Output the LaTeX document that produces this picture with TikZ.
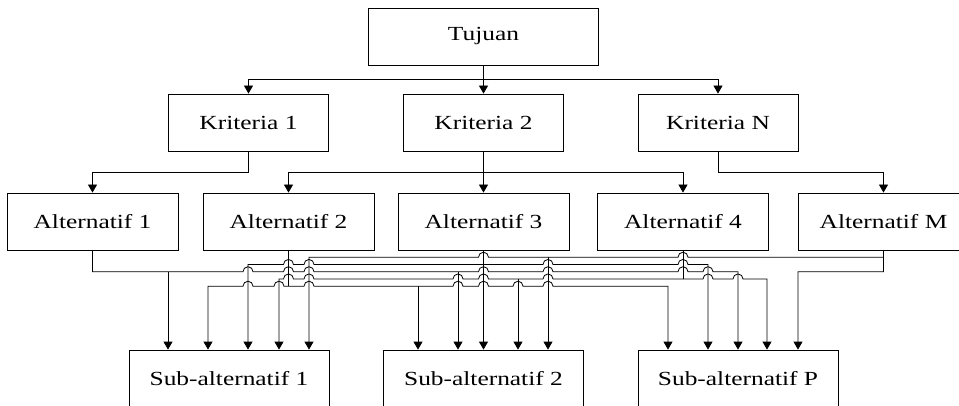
\documentclass[tikz,border=0pt]{standalone}
\usepackage{fontspec}
\setmainfont{Liberation Serif}
\usetikzlibrary{arrows.meta}
\tikzset{
  box/.style={draw, line width=0.8pt, inner sep=0pt, minimum height=57pt,
    font=\fontsize{20}{24}\selectfont},
  ln/.style={line width=0.8pt},
  arr/.style={ln, -{Triangle[length=8pt,width=9pt]}},
  arrtwo/.style={ln, {Triangle[length=8pt,width=9pt]}-{Triangle[length=8pt,width=9pt]}},
  hop/.style args={#1/#2}{insert path={-- ({#1-5},#2) arc[start angle=180,end angle=0,radius=5pt]}},
}
\newcommand{\sx}[1]{\scalebox{1.27}[1]{#1}}
\begin{document}
\begin{tikzpicture}[x=1pt,y=1pt]
\useasboundingbox (0,0) rectangle (959,405);
\clip (0,0) rectangle (959,405);
% nodes
\node[box, minimum width=230pt] (tuj) at (483.5,368.5) {\sx{Tujuan}};
\node[box, minimum width=160pt] (k1) at (248.5,282.5) {\sx{Kriteria 1}};
\node[box, minimum width=160pt] (k2) at (483.5,282.5) {\sx{Kriteria 2}};
\node[box, minimum width=160pt] (kN) at (718,282.5) {\sx{Kriteria N}};
\node[box, minimum width=171pt] (a1) at (92.5,183.5) {\sx{Alternatif 1}};
\node[box, minimum width=171pt] (a2) at (288.5,183.5) {\sx{Alternatif 2}};
\node[box, minimum width=171pt] (a3) at (483.5,183.5) {\sx{Alternatif 3}};
\node[box, minimum width=171pt] (a4) at (683,183.5) {\sx{Alternatif 4}};
\node[box, minimum width=171pt] (aM) at (883.5,183.5) {\sx{Alternatif M}};
\node[box, minimum width=200pt] (s1) at (229,26.5) {\sx{Sub-alternatif 1}};
\node[box, minimum width=200pt] (s2) at (483.5,26.5) {\sx{Sub-alternatif 2}};
\node[box, minimum width=200pt] (sp) at (738,26.5) {\sx{Sub-alternatif P}};
% top connectors
\draw[arr] (tuj.south) -- (k2.north);
\draw[arr] (tuj.south) -- ++(0,-14) -| (k1.north);
\draw[arr] (tuj.south) -- ++(0,-14) -| (kN.north);
\draw[arr] (k1.south) -- ++(0,-21) -| (a1.north);
\draw[arr] (k2.south) -- (a3.north);
\draw[arr] (k2.south) -- ++(0,-21) -| (a2.north);
\draw[arr] (k2.south) -- ++(0,-21) -| (a4.north);
\draw[arr] (kN.south) -- ++(0,-21) -| (aM.north);
% Alternatif 1 (level 3)
\draw[arr] (a1.south) -- (92.5,133.3) [hop=248/133.3, hop=288.5/133.3, hop=309/133.3, hop=483.5/133.3, hop=548/133.3, hop=683/133.3, hop=708/133.3] -- (738,133.3) -- (738,133.3 |- sp.north);
\draw[arr] (168,133.3) -- (168,133.3 |- s1.north);
\draw[arr] (458,133.3) -- (458,133.3 |- s2.north);
% Alternatif 2 (level 5)
\draw[arrtwo] (208,118.8 |- s1.north) -- (208,118.8) [hop=248/118.8, hop=279/118.8, hop=309/118.8, hop=458/118.8, hop=483.5/118.8, hop=518/118.8, hop=548/118.8] -- (668,118.8) -- (668,118.8 |- sp.north);
\draw[ln] (a2.south) -- (288.5,118.8);
\draw[arr] (418,118.8) -- (418,118.8 |- s2.north);
% Alternatif 3 (level 2)
\draw[arrtwo] (248,140.55 |- s1.north) -- (248,140.55) [hop=288.5/140.55, hop=309/140.55, hop=548/140.55, hop=683/140.55] -- (708,140.55) -- (708,140.55 |- sp.north);
\draw[arr] (a3.south) -- (a3.south |- s2.north);
% Alternatif 4 (level 4)
\draw[arrtwo] (279,126.05 |- s1.north) -- (279,126.05) [hop=288.5/126.05, hop=309/126.05, hop=458/126.05, hop=483.5/126.05, hop=548/126.05, hop=708/126.05, hop=738/126.05] -- (767,126.05) -- (767,126.05 |- sp.north);
\draw[ln] (a4.south) -- (683,126.05);
\draw[arr] (518,126.05) -- (518,126.05 |- s2.north);
% Alternatif M (level 1)
\draw[arrtwo] (309,147.8 |- s1.north) -- (309,147.8) [hop=483.5/147.8, hop=683/147.8] -- (883.5,147.8) -- (883.5,133.3) -- (798,133.3) -- (798,133.3 |- sp.north);
\draw[ln] (aM.south) -- (883.5,147.8);
\draw[arr] (548,147.8) -- (548,147.8 |- s2.north);
\end{tikzpicture}
\end{document}
